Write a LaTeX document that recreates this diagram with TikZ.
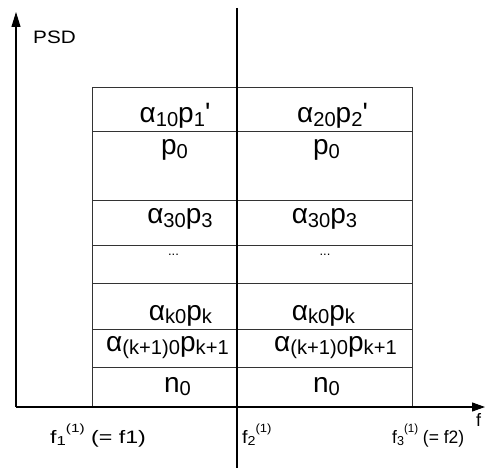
\documentclass[tikz,border=0pt]{standalone}
\usepackage{fontspec}
\setmainfont{Liberation Sans}
\usetikzlibrary{arrows.meta}
\newcommand{\lo}[1]{\raisebox{-0.14em}{\scalebox{0.72}{#1}}}
\newcommand{\hi}[1]{\raisebox{0.6em}{\scalebox{0.66}{#1}}}
\newcommand{\pr}{\textquotesingle}
\newcommand{\wide}[2]{\scalebox{#1}[1]{#2}}
\tikzset{
  axis/.style={line width=1.1pt, draw=black},
  cell/.style={line width=0.8pt, draw=black!80},
  big/.style={inner sep=0pt, anchor=base, font=\fontsize{28}{32}\selectfont},
  small/.style={inner sep=0pt, anchor=base west, font=\fontsize{18}{20}\selectfont},
  dots/.style={inner sep=0pt, font=\fontsize{13}{15}\selectfont},
}
\begin{document}
\begin{tikzpicture}[x=1pt,y=-1pt]
\useasboundingbox (0,0) rectangle (485,468);
\coordinate (O) at (16,407);
\coordinate (Ytip) at (16,12);
\coordinate (Xtip) at (485,407);
\coordinate (Mtop) at (237,8);
\coordinate (Mbot) at (237,468);
% box
\draw[cell] (92,87) rectangle (412,407);
\foreach \yy in {131,200,245,283,329,367}
  \draw[cell] (92,\yy) -- (412,\yy);
% axes
\draw[axis,-{Triangle[length=15pt,width=9pt]}] (O) -- (Ytip);
\draw[axis,-{Triangle[length=13pt,width=9pt]}] (O) -- (Xtip);
\draw[axis] (Mtop) -- (Mbot);
% left column texts
\node[big] (a10) at (175,123) {α\lo{10}p\lo{1}\pr};
\node[big] (p0l) at (174.5,155) {p\lo{0}};
\node[big] (a30l) at (180,224) {α\lo{30}p\lo{3}};
\node[dots] (dl) at (173.5,255) {...};
\node[big] (akl) at (180.5,320) {α\lo{k0}p\lo{k}};
\node[big] (ak1l) at (167.5,351) {α\lo{(k+1)0}p\lo{k+1}};
\node[big] (n0l) at (177.5,392) {n\lo{0}};
% right column texts
\node[big] (a20) at (332.5,123) {α\lo{20}p\lo{2}\pr};
\node[big] (p0r) at (326.5,155) {p\lo{0}};
\node[big] (a30r) at (324.5,224) {α\lo{30}p\lo{3}};
\node[dots] (dr) at (325,255) {...};
\node[big] (akr) at (323.5,320) {α\lo{k0}p\lo{k}};
\node[big] (ak1r) at (335.5,351) {α\lo{(k+1)0}p\lo{k+1}};
\node[big] (n0r) at (326.5,392) {n\lo{0}};
% axis labels
\node[small] (psd) at (33,44) {\wide{1.15}{PSD}};
\node[small] (f1) at (50,443) {\wide{1.29}{f\lo{1}\hi{(1)} (= f1)}};
\node[small] (f2) at (242,443) {\wide{1.1}{f\lo{2}\hi{(1)}}};
\node[small] (f3) at (392,443) {\wide{0.97}{f\lo{3}\hi{(1)} (= f2)}};
\node[small] (ff) at (476,426) {f};
\end{tikzpicture}
\end{document}
